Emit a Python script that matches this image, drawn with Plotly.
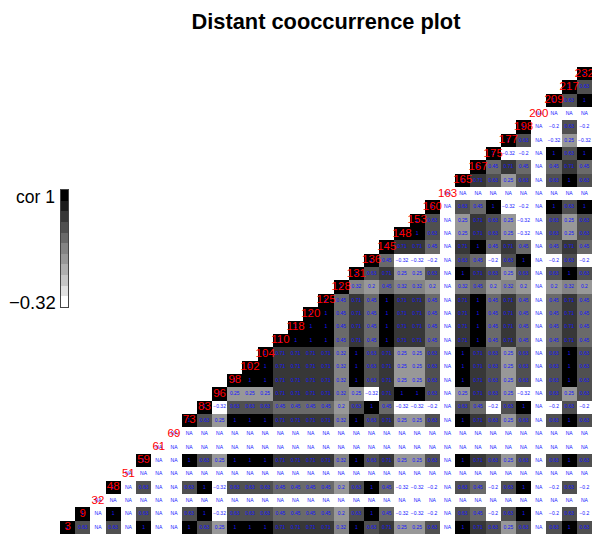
import plotly.graph_objects as go

W, H = 592, 534
N = None

loci = [3, 9, 32, 48, 51, 59, 61, 69, 73, 83, 96, 98, 102, 104, 110, 118, 120, 125,
        128, 131, 136, 145, 148, 153, 160, 163, 165, 167, 175, 177, 198, 200, 209, 217, 232]

# correlation of each locus pattern against all 35 loci (in the order of `loci`)
pat_a = [1, .63, N, .63, N, 1, N, N, 1, .63, .25, 1, 1, 1, .71, .71, .71, .71, .32, 1, .63, .71,
         .25, .25, .63, N, 1, .71, .63, .25, .63, N, .63, 1, .63]
pat_b = [.63, 1, N, 1, N, .63, N, N, .63, 1, -.32, .63, .63, .63, .45, .45, .45, .45, .2, .63, 1, .45,
         -.32, -.32, -.2, N, .63, .45, -.2, .63, 1, N, -.2, .63, -.2]
pat_c = [.71, .45, N, .45, N, .71, N, N, .71, .45, .71, .71, .71, .71, 1, 1, 1, 1, .45, .71, .45, 1,
         .71, .71, .45, N, .71, 1, .45, .71, .45, N, .45, .71, .45]
pat_e = [.25, -.32, N, -.32, N, .25, N, N, .25, -.32, 1, .25, .25, .25, .71, .71, .71, .71, .32, .25, -.32, .71,
         1, 1, .63, N, .25, .71, .63, .25, -.32, N, .63, .25, .63]
pat_f = [.63, -.2, N, -.2, N, .63, N, N, .63, -.2, .63, .63, .63, .63, .45, .45, .45, .45, .2, .63, -.2, .45,
         .63, .63, 1, N, .63, .45, 1, -.32, -.2, N, 1, .63, 1]
pat_g = [.25, .63, N, .63, N, .25, N, N, .25, .63, .25, .25, .25, .25, .71, .71, .71, .71, .32, .25, .63, .71,
         .25, .25, -.32, N, .25, .71, -.32, 1, .63, N, -.32, .25, -.32]
pat_h = [.32, .2, N, .2, N, .32, N, N, .32, .2, .32, .32, .32, .32, .45, .45, .45, .45, 1, .32, .2, .45,
         .32, .32, .2, N, .32, .45, .2, .32, .2, N, .2, .32, .2]
pat_n = [N] * 35

locus_pattern = [pat_a, pat_b, pat_n, pat_b, pat_n, pat_a, pat_n, pat_n, pat_a, pat_b, pat_e,
                 pat_a, pat_a, pat_a, pat_c, pat_c, pat_c, pat_c, pat_h, pat_a, pat_b, pat_c,
                 pat_e, pat_e, pat_f, pat_n, pat_a, pat_c, pat_f, pat_g, pat_b, pat_n, pat_f, pat_a, pat_f]

grays = [255, 225, 198, 175, 152, 132, 106, 80, 55, 28, 0]
legend_levels = [-0.26, -0.14, -0.02, 0.10, 0.22, 0.34, 0.46, 0.58, 0.70, 0.82, 0.94]
zmin, zmax = -0.31, 1.0

scale = []
for i, g in enumerate(grays):
    c = f"rgb({g},{g},{g})"
    scale.append([i / len(grays), c])
    scale.append([(i + 1) / len(grays), c])


def fmt(v):
    if v is None:
        return "NA"
    s = f"{v:g}"
    return s.replace("-", "\u2212")


n = len(loci)
idx = list(range(n))
z = [[locus_pattern[r][c] if c >= r else None for c in idx] for r in idx]

tx, ty, tt = [], [], []
for r in idx:
    for c in range(r, n):
        tx.append(c)
        ty.append(r)
        tt.append(fmt(z[r][c]))

fig = go.Figure()
fig.add_trace(go.Heatmap(x=idx, y=idx, z=z, zmin=zmin, zmax=zmax, colorscale=scale,
                         showscale=False, hoverongaps=False))
fig.add_trace(go.Scatter(x=tx, y=ty, text=tt, mode="text", showlegend=False,
                         textposition="middle center", cliponaxis=False,
                         textfont=dict(family="Liberation Sans", size=5, color="rgb(20,20,255)")))
fig.add_trace(go.Scatter(x=idx, y=idx, text=[str(v) for v in loci], mode="text", showlegend=False,
                         textposition="middle center", cliponaxis=False,
                         textfont=dict(family="Liberation Sans", size=11.5, color="rgb(255,0,0)")))
fig.add_trace(go.Heatmap(x=[0], y=legend_levels, z=[[v] for v in legend_levels], zmin=zmin, zmax=zmax,
                         colorscale=scale, showscale=False, xaxis="x2", yaxis="y2"))

fig.update_layout(
    width=W, height=H, margin=dict(l=0, r=0, t=0, b=0, pad=0),
    paper_bgcolor="white", plot_bgcolor="white", showlegend=False,
    font=dict(family="Liberation Sans", color="black"),
    title=dict(text="<b>Distant cooccurrence plot</b>", x=326 / W, xanchor="center",
               y=1 - 21 / H, yanchor="middle", font=dict(size=21.8, family="Liberation Sans")),
    xaxis=dict(domain=[60 / W, 1], range=[-0.5, n - 0.5], visible=False, fixedrange=True),
    yaxis=dict(domain=[0, (H - 67) / H], range=[-0.5, n - 0.5], visible=False, fixedrange=True),
    xaxis2=dict(domain=[60.5 / W, 68 / W], anchor="y2", showticklabels=False, ticks="", showgrid=False,
                zeroline=False, showline=True, mirror=True, linecolor="#444444", linewidth=1, fixedrange=True),
    yaxis2=dict(domain=[(H - 307) / H, (H - 190) / H], anchor="x2", range=[-0.32, 1.0], showticklabels=False,
                ticks="", showgrid=False, zeroline=False, showline=True, mirror=True,
                linecolor="#444444", linewidth=1, fixedrange=True),
    annotations=[
        dict(text="cor 1", xref="paper", yref="paper", x=57 / W, y=1 - 197 / H, xanchor="right", yanchor="middle",
             showarrow=False, font=dict(size=17.5)),
        dict(text="\u22120.32", xref="paper", yref="paper", x=58 / W, y=1 - 302 / H, xanchor="right", yanchor="middle",
             showarrow=False, font=dict(size=18.5)),
    ],
)

fig.write_html("out.html", config=dict(displayModeBar=False),
               post_script="document.body.style.margin='0';")
